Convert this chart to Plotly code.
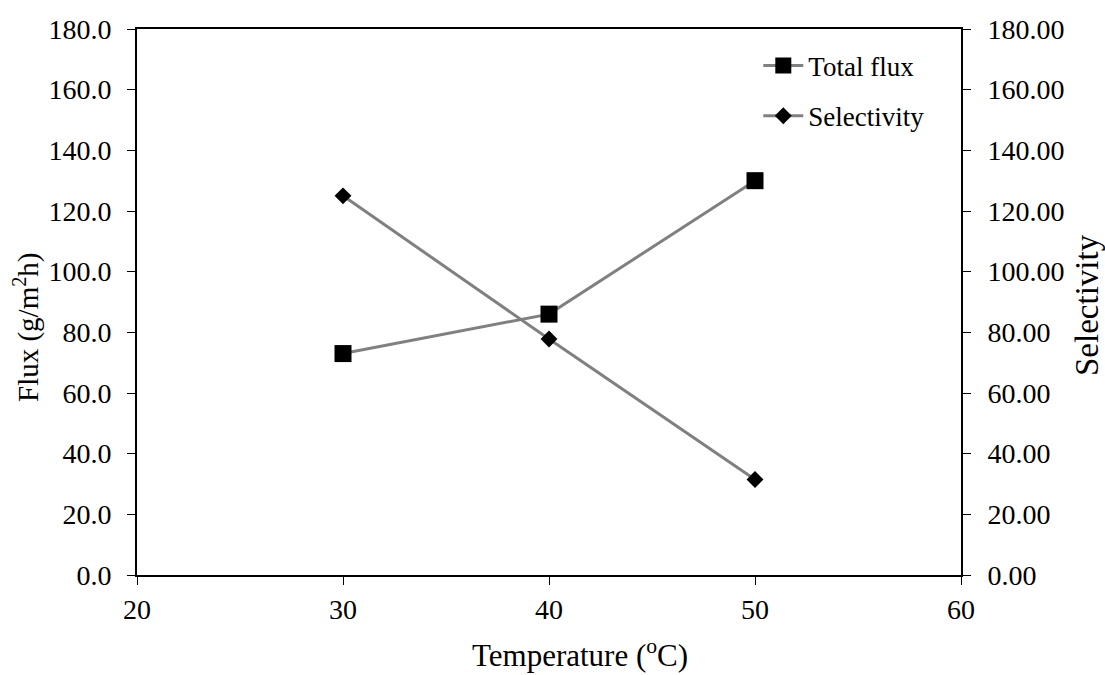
import plotly.graph_objects as go

# Temperature (°C) and measured values
temperature = [30, 40, 50]
total_flux = [73.0, 86.0, 130.0]
selectivity = [125.0, 77.8, 31.5]

FONT = "Liberation Serif, Times New Roman, serif"
LINE_COLOR = "#808080"
TICK_SIZE = 28

# plot-area geometry in pixels
W, H = 1105, 675
ML, MR, MT, MB = 137, 144, 29, 100
PW, PH = W - ML - MR, H - MT - MB


def px_to_paper(px, py):
    """Convert a pixel position on the page to paper coordinates."""
    return (px - ML) / PW, (H - MB - py) / PH


fig = go.Figure()

fig.add_trace(go.Scatter(
    x=temperature, y=total_flux, name="Total flux",
    mode="lines+markers", legendgroup="flux",
    line=dict(color=LINE_COLOR, width=3),
    marker=dict(symbol="square", size=17, color="black"),
    yaxis="y",
))

fig.add_trace(go.Scatter(
    x=temperature, y=selectivity, name="Selectivity",
    mode="lines+markers", legendgroup="sel",
    line=dict(color=LINE_COLOR, width=3),
    marker=dict(symbol="diamond", size=13, color="black"),
    yaxis="y2",
))


def axis_style():
    return dict(
        showline=True, linecolor="black", linewidth=2,
        ticks="outside", ticklen=8, tickwidth=1, tickcolor="black",
        showgrid=False, zeroline=False, automargin=False,
        tickfont=dict(family=FONT, size=TICK_SIZE, color="black"),
    )


# axis titles placed as annotations
titles = [
    ("Temperature (<sup>o</sup>C)", (580, 653), 0, 31),
    ("Flux (g/m<sup>2</sup>h)", (26, 327), -90, 29),
    ("Selectivity", (1087, 305), -90, 33),
]
annotations = []
for text, (px, py), angle, size in titles:
    ax, ay = px_to_paper(px, py)
    annotations.append(dict(
        text=text, x=ax, y=ay, xref="paper", yref="paper",
        xanchor="center", yanchor="middle", textangle=angle,
        showarrow=False, font=dict(family=FONT, size=size, color="black"),
    ))

fig.update_layout(
    width=W, height=H,
    margin=dict(l=ML, r=MR, t=MT, b=MB),
    paper_bgcolor="white", plot_bgcolor="white",
    font=dict(family=FONT, size=TICK_SIZE, color="black"),
    showlegend=True,
    legend=dict(
        x=0.754, y=0.977, xanchor="left", yanchor="top",
        bgcolor="rgba(0,0,0,0)",
        font=dict(family=FONT, size=27, color="black"),
        tracegroupgap=12, itemwidth=40,
    ),
    xaxis=dict(
        range=[20, 60], dtick=10, tick0=20, mirror=True,
        ticklabelstandoff=0,
        **axis_style(),
    ),
    yaxis=dict(
        range=[0, 180], dtick=20, tickformat=".1f",
        ticklabelstandoff=10,
        **axis_style(),
    ),
    yaxis2=dict(
        range=[0, 180], dtick=20, tickformat=".2f",
        overlaying="y", side="right",
        ticklabelstandoff=11,
        **axis_style(),
    ),
    annotations=annotations,
)

fig.write_html("out.html")
